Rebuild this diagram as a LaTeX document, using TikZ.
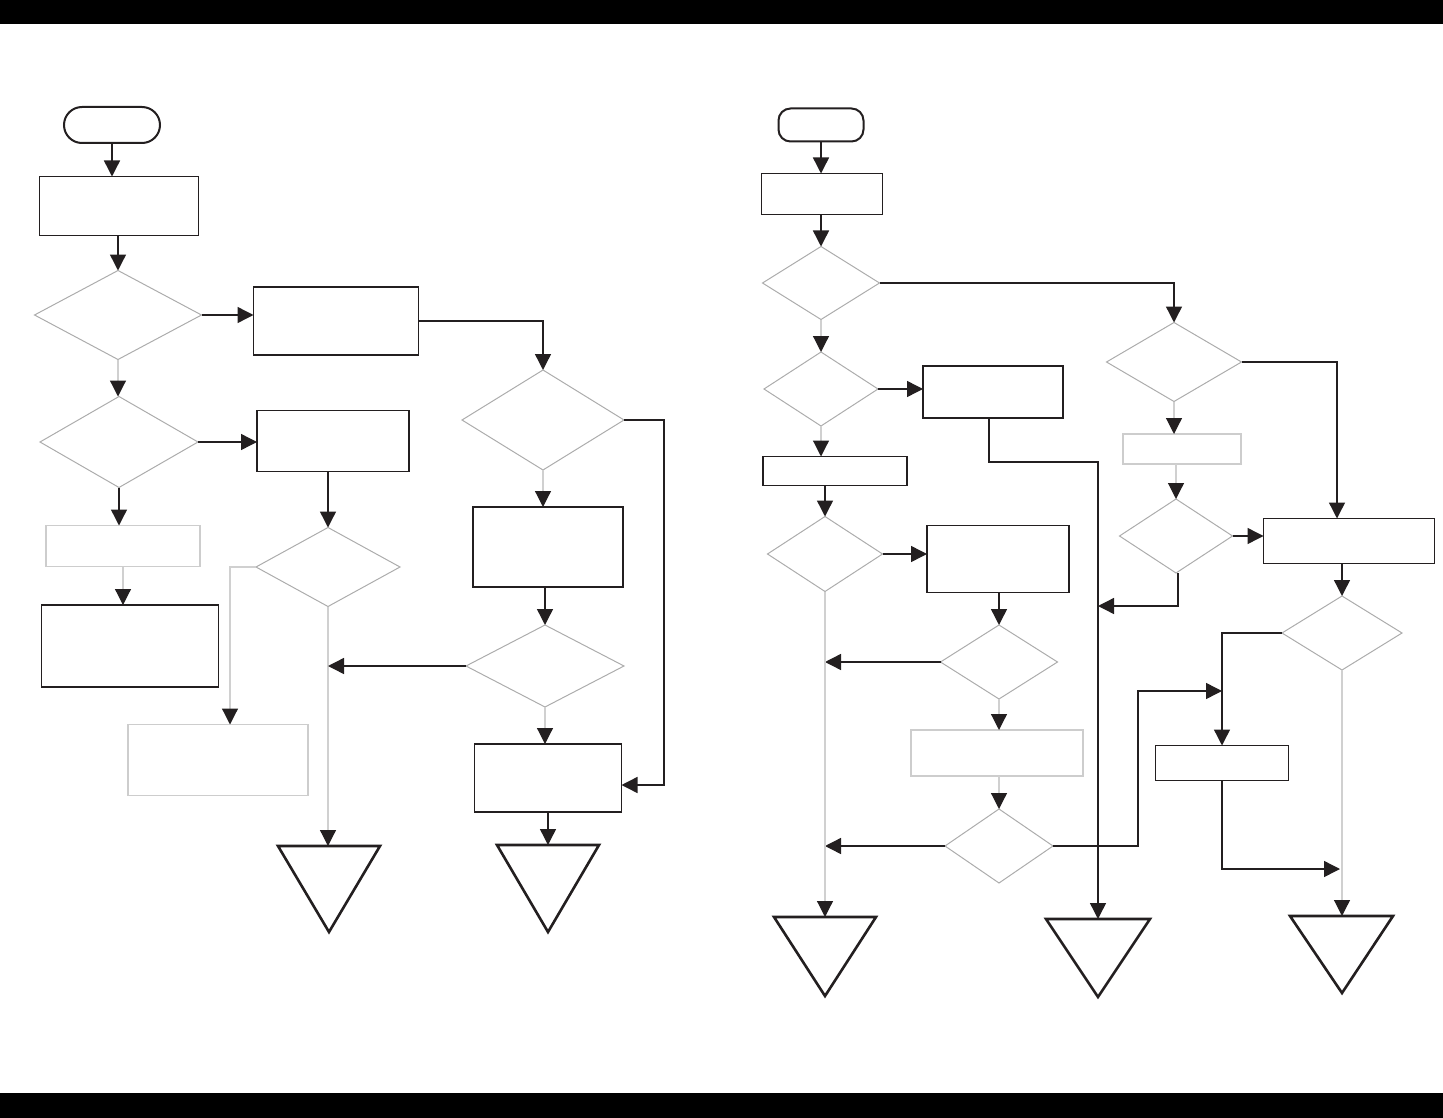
\documentclass[tikz,border=0pt]{standalone}
\usepackage{xcolor}
\usepackage{tikz}
\usetikzlibrary{shapes.geometric,arrows.meta,calc}
\definecolor{inkblack}{RGB}{35,31,32}
\definecolor{diagray}{RGB}{172,172,172}
\definecolor{boxgray}{RGB}{205,205,205}
\definecolor{linegray}{RGB}{208,208,208}

\begin{document}
\begin{tikzpicture}[x=1pt, y=-1pt,
    procbox/.style={draw=inkblack, line width=1.5pt, rectangle, inner sep=0pt, outer sep=0pt},
    graybox/.style={draw=boxgray, line width=1.2pt, rectangle, inner sep=0pt, outer sep=0pt},
    decide/.style={draw=diagray, line width=1pt, diamond, inner sep=0pt, outer sep=0pt},
    terminal/.style={draw=inkblack, line width=2pt, rectangle, inner sep=0pt, outer sep=0pt},
    flow/.style={draw=inkblack, line width=1.4pt, -{Triangle[length=16pt,width=16pt]}},
    grayflow/.style={draw=linegray, line width=1.2pt, -{Triangle[length=16pt,width=16pt,color=inkblack]}},
    endtri/.style={draw=inkblack, line width=2.6pt, line join=miter}]
        \useasboundingbox (0,0) rectangle (1443,1118);
        % Page bars
        \fill[black] (0,0) rectangle (1443,24);
        \fill[black] (0,1093) rectangle (1443,1118);

        % ---------------- Left chart ----------------
        \node[terminal, rounded corners=18pt, minimum width=96pt, minimum height=36pt] (st1) at (112,125) {};
        \node[procbox, minimum width=159pt, minimum height=59pt] (b1) at (119,206) {};
        \node[decide, minimum width=167pt, minimum height=89pt] (d1) at (118,315) {};
        \node[procbox, minimum width=165pt, minimum height=68pt] (b2) at (336,321) {};
        \node[decide, minimum width=158pt, minimum height=91pt] (d2) at (119,442) {};
        \node[procbox, minimum width=152pt, minimum height=61pt] (b3) at (333,441) {};
        \node[decide, minimum width=144pt, minimum height=79pt] (d3) at (328,567) {};
        \node[graybox, minimum width=154pt, minimum height=41pt] (b4) at (123,546) {};
        \node[procbox, minimum width=177pt, minimum height=82pt] (b5) at (130,646) {};
        \node[graybox, minimum width=180pt, minimum height=71pt] (b6) at (218,760) {};
        \node[decide, minimum width=162pt, minimum height=100pt] (dR1) at (543,420) {};
        \node[procbox, minimum width=150pt, minimum height=80pt] (bR1) at (548,547) {};
        \node[decide, minimum width=158pt, minimum height=82pt] (dR2) at (545,666) {};
        \node[procbox, minimum width=147pt, minimum height=68pt] (bR2) at (548,778) {};
        \coordinate (t1) at (329,846);
        \coordinate (t2) at (548,845);

        % Terminators
        \draw[endtri] (t1) ++(-51,0) -- ++(102,0) -- ++(-51,86) -- cycle;
        \draw[endtri] (t2) ++(-51,0) -- ++(102,0) -- ++(-51,87) -- cycle;

        % Connectors
        \draw[flow] (st1.south) -- (st1.south |- b1.north);
        \draw[flow] (b1.south -| d1.north) -- (d1.north);
        \draw[flow] (d1.east) -- (d1.east -| b2.west);
        \draw[grayflow] (d1.south) -- (d1.south |- d2.north);
        \draw[flow] (d2.east) -- (d2.east -| b3.west);
        \draw[flow] (b3.south -| d3.north) -- (d3.north);
        \draw[flow] (d2.south) -- (d2.south |- b4.north);
        \draw[grayflow] (b4.south) -- (b4.south |- b5.north);
        \draw[grayflow] (d3.west) -| ([xshift=12pt]b6.north);
        \draw[grayflow] (d3.south) -- (d3.south |- t1);
        \draw[flow] (dR2.west) -- (dR2.west -| d3.south);
        \draw[flow] (b2.east) -| (dR1.north);
        \draw[flow] (dR1.east) -- ++(40,0) |- ([yshift=-7pt]bR2.east);
        \draw[grayflow] (dR1.south) -- (dR1.south |- bR1.north);
        \draw[flow] (bR1.south -| dR2.north) -- (dR2.north);
        \draw[grayflow] (dR2.south) -- (dR2.south |- bR2.north);
        \draw[flow] (bR2.south) -- (bR2.south |- t2);

        % ---------------- Right chart ----------------
        \node[terminal, rounded corners=12pt, minimum width=85pt, minimum height=33pt] (st2) at (821,125) {};
        \node[procbox, minimum width=121pt, minimum height=41pt] (bA) at (822,194) {};
        \node[decide, minimum width=117pt, minimum height=73pt] (dA) at (821,283) {};
        \node[decide, minimum width=114pt, minimum height=74pt] (dC) at (821,389) {};
        \node[procbox, minimum width=140pt, minimum height=52pt] (bB) at (993,392) {};
        \node[procbox, minimum width=144pt, minimum height=29pt] (bC) at (835,471) {};
        \node[decide, minimum width=115pt, minimum height=75pt] (dD) at (825,554) {};
        \node[procbox, minimum width=142pt, minimum height=67pt] (bD) at (998,559) {};
        \node[decide, minimum width=117pt, minimum height=74pt] (dE) at (999,662) {};
        \node[graybox, minimum width=172pt, minimum height=46pt] (bE) at (997,753) {};
        \node[decide, minimum width=108pt, minimum height=74pt] (dF) at (999,846) {};
        \node[decide, minimum width=135pt, minimum height=79pt] (dB) at (1174,362) {};
        \node[graybox, minimum width=118pt, minimum height=30pt] (bG) at (1182,449) {};
        \node[decide, minimum width=113pt, minimum height=74pt] (dG) at (1176,536) {};
        \node[procbox, minimum width=171pt, minimum height=45pt] (bF) at (1349,541) {};
        \node[decide, minimum width=120pt, minimum height=74pt] (dH) at (1342,633) {};
        \node[procbox, minimum width=133pt, minimum height=35pt] (bH) at (1222,763) {};
        \coordinate (t3) at (825,917);
        \coordinate (t4) at (1098,919);
        \coordinate (t5) at (1342,916);
        \coordinate (m4) at (1098,606);
        \coordinate (m5) at (1340,869);

        % Terminators
        \draw[endtri] (t3) ++(-51,0) -- ++(102,0) -- ++(-51,79) -- cycle;
        \draw[endtri] (t4) ++(-52,0) -- ++(104,0) -- ++(-52,78) -- cycle;
        \draw[endtri] (t5) ++(-52,0) -- ++(103,0) -- ++(-51,77) -- cycle;

        % Connectors
        \draw[flow] (st2.south) -- (st2.south |- bA.north);
        \draw[flow] (bA.south -| dA.north) -- (dA.north);
        \draw[flow] (dA.east) -| (dB.north);
        \draw[grayflow] (dA.south) -- (dA.south |- dC.north);
        \draw[flow] (dC.east) -- (dC.east -| bB.west);
        \draw[flow] ([xshift=-4pt]bB.south) -- ++(0,44) -| (t4);
        \draw[grayflow] (dC.south) -- (dC.south |- bC.north);
        \draw[flow] (bC.south -| dD.north) -- (dD.north);
        \draw[flow] (dD.east) -- (dD.east -| bD.west);
        \draw[flow] (bD.south -| dE.north) -- (dE.north);
        \draw[flow] (dE.west) -- (dE.west -| dD.south);
        \draw[grayflow] (dE.south) -- (dE.south |- bE.north);
        \draw[grayflow] (bE.south -| dF.north) -- (dF.north);
        \draw[flow] (dF.west) -- (dF.west -| dD.south);
        \draw[flow] (dF.east) -- ++(85,0) |- (bH.north |- 0,691);
        \draw[grayflow] (dD.south) -- (dD.south |- t3);
        \draw[flow] (dB.east) -| ([xshift=-12pt]bF.north);
        \draw[grayflow] (dB.south) -- (dB.south |- bG.north);
        \draw[grayflow] (bG.south -| dG.north) -- (dG.north);
        \draw[flow] (dG.east) -- (dG.east -| bF.west);
        \draw[flow] ([xshift=2pt]dG.south) |- (m4);
        \draw[flow] (bF.south -| dH.north) -- (dH.north);
        \draw[flow] (dH.west) -| (bH.north);
        \draw[grayflow] (dH.south) -- (dH.south |- t5);
        \draw[flow] (bH.south) |- (m5);
\end{tikzpicture}
\end{document}
